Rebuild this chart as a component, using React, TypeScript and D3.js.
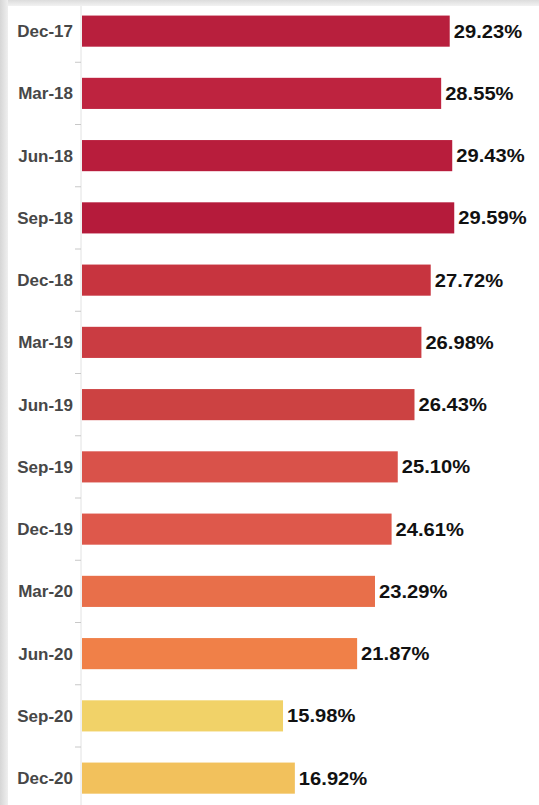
import React from "react";
import * as d3 from "d3";

const categories = ["Dec-17","Mar-18","Jun-18","Sep-18","Dec-18","Mar-19","Jun-19","Sep-19","Dec-19","Mar-20","Jun-20","Sep-20","Dec-20"];
const values = [29.23, 28.55, 29.43, 29.59, 27.72, 26.98, 26.43, 25.10, 24.61, 23.29, 21.87, 15.98, 16.92];
const colors = ["#b81f3d","#be233f","#b81d3c","#b51b3b","#c7343f","#ca3c42","#cc4242","#d9524a","#de584b","#e86f4a","#f08048","#f1d268","#f2c15c"];

const W = 539, H = 805;

export default function App() {
  const y = d3.scaleBand<string>().domain(categories).range([0, 809.25]).paddingInner(0.5).paddingOuter(0.25);
  const x = d3.scaleLinear().domain([0, 30]).range([82, 82 + 12.58 * 30]);
  const step = y.step();
  const bw = y.bandwidth();
  return (
    <svg width={W} height={H} style={{ position: "absolute", left: 0, top: 0, background: "#fff" }}>
      <defs>
        <linearGradient id="topg" x1="0" y1="0" x2="0" y2="1">
          <stop offset="0" stopColor="#dcdcdc" />
          <stop offset="1" stopColor="#f2f2f2" />
        </linearGradient>
        <linearGradient id="leftg" x1="0" y1="0" x2="1" y2="0">
          <stop offset="0" stopColor="#d6d6d6" />
          <stop offset="1" stopColor="#efefef" />
        </linearGradient>
      </defs>
      <rect x={0} y={0} width={W} height={H} fill="#fff" />
      <rect x={0} y={0} width={W} height={6} fill="url(#topg)" />
      <rect x={0} y={0} width={8} height={H} fill="url(#leftg)" />
      <line x1={81} x2={81} y1={6} y2={H} stroke="#e2e2e2" strokeWidth={1} />
      {categories.slice(1).map((c) => {
        const ty = (y(c) as number) - (step - bw) / 2;
        return <line key={"t" + c} x1={75} x2={81} y1={ty} y2={ty} stroke="#c8c8c8" strokeWidth={1} />;
      })}
      {categories.map((c, i) => {
        const by = y(c) as number;
        const xe = x(values[i]);
        return (
          <g key={c}>
            <rect x={x(0)} y={by} width={xe - x(0)} height={bw} fill={colors[i]} />
            <text x={73} y={by + bw / 2} dy="0.36em" textAnchor="end" fontFamily="Liberation Sans, Arial, sans-serif" fontWeight="bold" fontSize={17} fill="#474747">{c}</text>
            <text transform={`translate(${xe + 4},${by + bw / 2}) scale(1.12,1)`} dy="0.36em" fontFamily="Liberation Sans, Arial, sans-serif" fontWeight="bold" fontSize={18} fill="#111">{values[i].toFixed(2) + "%"}</text>
          </g>
        );
      })}
    </svg>
  );
}
